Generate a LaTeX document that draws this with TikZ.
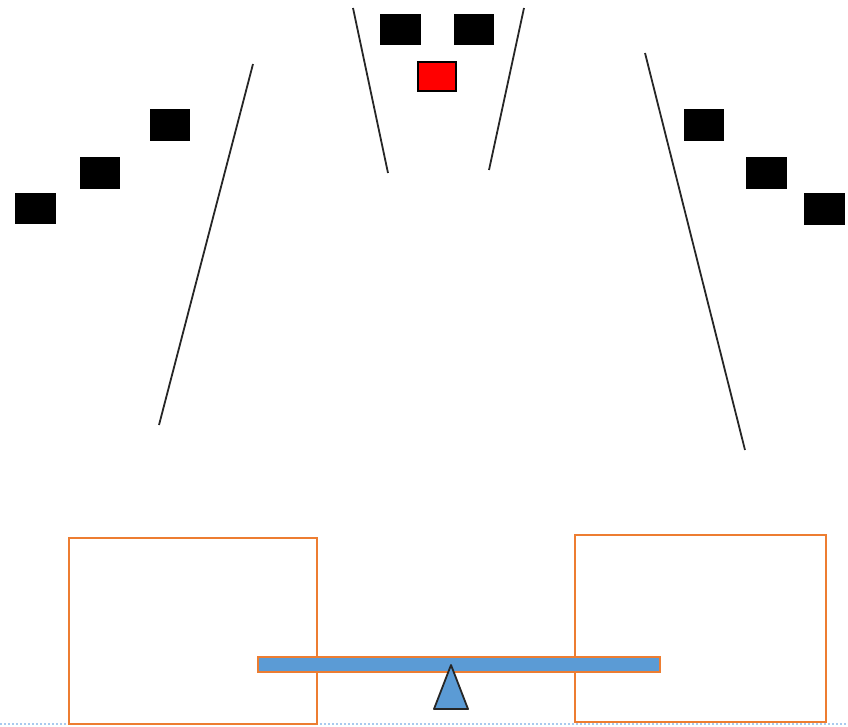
\documentclass[tikz,border=0pt]{standalone}
\begin{document}
\begin{tikzpicture}[x=1pt,y=-1pt,
  blk/.style={fill=black,draw=black,line width=0.6pt},
  redbox/.style={fill=red,draw=black,line width=1.2pt},
  wire/.style={draw=black!85,line width=1.8pt},
  frame/.style={draw=orangeC,line width=2pt},
  ]
\definecolor{orangeC}{HTML}{ED7D31}
\definecolor{blueC}{HTML}{5B9BD5}
\definecolor{dotC}{HTML}{A9CBEF}
\useasboundingbox (0,0) rectangle (848,727);
% black squares left
\draw[blk] (15,193) rectangle (55,223);
\draw[blk] (80,157) rectangle (119,188);
\draw[blk] (150,109) rectangle (189,140);
% right
\draw[blk] (684,109) rectangle (723,140);
\draw[blk] (746,157) rectangle (786,188);
\draw[blk] (804,193) rectangle (844,224);
% top
\draw[blk] (380,14) rectangle (420,44);
\draw[blk] (454,14) rectangle (493,44);
\draw[redbox] (418,62) rectangle (456,91);
% lines
\draw[wire] (353,8) -- (388,173);
\draw[wire] (524,8) -- (489,170);
\draw[wire] (253,64) -- (159,425);
\draw[wire] (645,53) -- (745,450);
% dotted ground
\draw[dotC,line width=2pt,dotted] (0,724) -- (848,724);
% orange boxes
\draw[frame] (69,538) rectangle (317,724);
\draw[frame] (575,535) rectangle (826,722);
% seesaw
\draw[fill=blueC,draw=orangeC,line width=2pt] (258,657) rectangle (660,672);
\draw[fill=blueC,draw=black!85,line width=1.8pt,line join=round] (451,665) -- (468,709) -- (434,709) -- cycle;
\end{tikzpicture}
\end{document}
